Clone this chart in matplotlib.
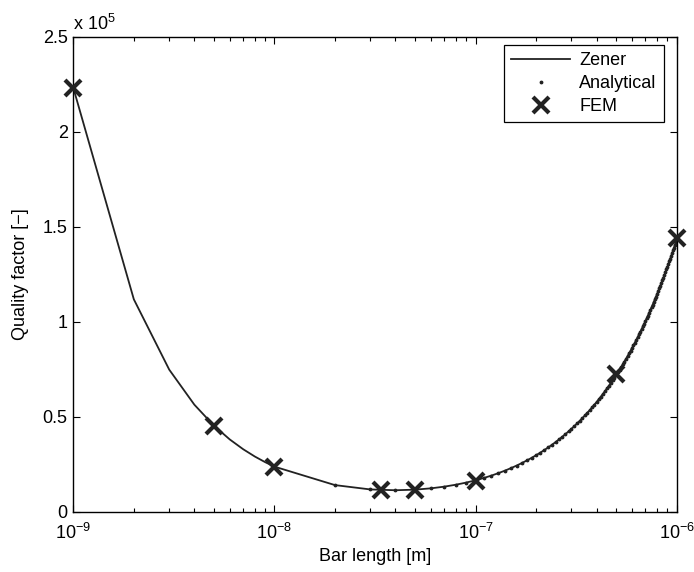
import matplotlib.pyplot as plt
from matplotlib.ticker import FuncFormatter, FixedLocator, NullFormatter
import numpy as np

plt.rcParams['font.family'] = ['Liberation Sans', 'DejaVu Sans']
plt.rcParams['mathtext.fontset'] = 'custom'
plt.rcParams['mathtext.rm'] = 'Liberation Sans'
plt.rcParams['mathtext.it'] = 'Liberation Sans:italic'

# bar lengths [nm] and quality factors
analytical_L_nm = list(range(10, 1001, 10))
analytical_Q = [
    23730, 14010, 11720, 11300, 11610, 12300, 13200, 14230, 15350, 16530,
    17760, 19020, 20310, 21610, 22940, 24270, 25620, 26980, 28340, 29720,
    31090, 32470, 33860, 35250, 36640, 38040, 39440, 40840, 42240, 43640,
    45050, 46460, 47870, 49280, 50690, 52100, 53510, 54930, 56340, 57760,
    59170, 60590, 62010, 63430, 64850, 66270, 67680, 69110, 70530, 71950,
    73370, 74790, 76210, 77630, 79060, 80480, 81900, 83320, 84750, 86170,
    87600, 89020, 90440, 91870, 93290, 94720, 96140, 97570, 98990, 100420,
    101840, 103270, 104700, 106120, 107550, 108970, 110400, 111830, 113250, 114680,
    116110, 117530, 118960, 120390, 121810, 123240, 124670, 126090, 127520, 128950,
    130380, 131800, 133230, 134660, 136090, 137510, 138940, 140370, 141800, 143220,
]

# Zener curve: fine steps at the short end, then same grid as the analytical model
zener_short_L_nm = [1, 2, 3, 4, 5, 6, 7, 8, 9]
zener_short_Q = [223140, 111790, 74760, 56320, 45320, 38030, 32860, 29020, 26070]

fem_L_nm = [1, 5, 10, 34, 50, 100, 500, 1000]
fem_Q = [223000, 45000, 23700, 11400, 11400, 16200, 72300, 143900]

x_major = [1e-9, 1e-8, 1e-7, 1e-6]
x_labels = [r'$10^{-9}$', r'$10^{-8}$', r'$10^{-7}$', r'$10^{-6}$']

zener_L = np.array(zener_short_L_nm + analytical_L_nm) * 1e-9
zener_Q = np.array(zener_short_Q + analytical_Q)
analytical_L = np.array(analytical_L_nm) * 1e-9
fem_L = np.array(fem_L_nm) * 1e-9

fs = 13
fig = plt.figure(figsize=(6.94, 5.72), dpi=100)
ax = fig.add_axes([0.1056, 0.1054, 0.8694, 0.8304])

ink = '#222222'
ax.plot(zener_L, zener_Q, '-', color=ink, lw=1.3, label='Zener')
ax.plot(analytical_L, analytical_Q, '.', color=ink, ms=3.5, label='Analytical')
ax.plot(fem_L, fem_Q, 'x', color=ink, ms=11.5, mew=3, label='FEM', linestyle='none',
        clip_on=False, zorder=5)

ax.set_xscale('log')
ax.set_xlim(1e-9, 1e-6)
ax.set_ylim(0, 2.5e5)
ax.set_yticks(np.arange(0, 2.51e5, 0.5e5))
ax.yaxis.set_major_formatter(FuncFormatter(lambda v, p: '%g' % (v / 1e5)))
ax.set_xticks(x_major)
ax.set_xticklabels(x_labels)
minor = [m * d for d in x_major[:-1] for m in range(2, 10)]
ax.xaxis.set_minor_locator(FixedLocator(minor))
ax.xaxis.set_minor_formatter(NullFormatter())

ax.tick_params(which='both', direction='in', top=True, right=True, labelsize=fs, colors='black')
ax.tick_params(which='major', length=5, width=0.8)
ax.tick_params(which='minor', length=3, width=0.8)
ax.tick_params(axis='x', pad=8)
ax.tick_params(axis='y', pad=4)
for s in ax.spines.values():
    s.set_linewidth(1.0)

ax.set_xlabel('Bar length [m]', fontsize=fs, labelpad=4)
ax.set_ylabel('Quality factor [\u2212]', fontsize=fs, labelpad=10)
ax.text(0.0, 1.006, r'x 10$^{5}$', transform=ax.transAxes, fontsize=fs,
        ha='left', va='bottom')

leg = ax.legend(loc='upper right', bbox_to_anchor=(0.979, 0.982), fancybox=False,
                edgecolor='black', framealpha=1, fontsize=fs, handlelength=3.3,
                borderpad=0.4, labelspacing=0.32, handletextpad=0.5, borderaxespad=0)
leg.get_frame().set_linewidth(0.9)

fig.savefig('out.png', dpi=100)
